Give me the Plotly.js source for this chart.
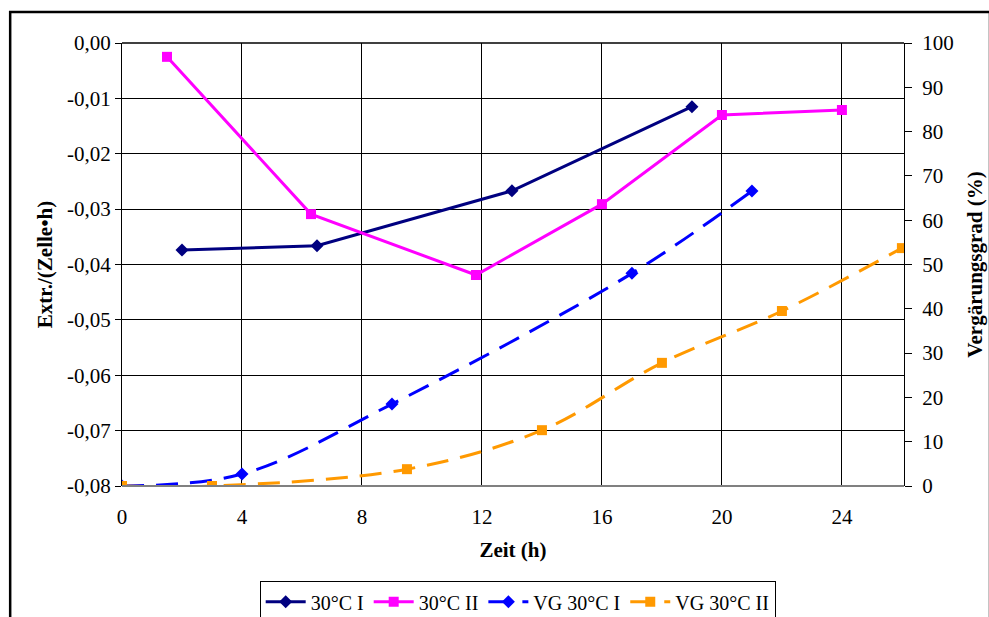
<!DOCTYPE html>
<html><head><meta charset="utf-8">
<script src="https://cdn.plot.ly/plotly-3.0.1.min.js"></script>
<style>html,body{margin:0;padding:0;background:#fff}#c{width:989px;height:617px}</style>
</head><body><div id="c"></div>
<script>
const x30I = [2, 6.5, 13, 19];
const y30I = [-0.0374, -0.0366, -0.0267, -0.0115];
const x30II = [1.5, 6.3, 11.8, 16, 20, 24];
const y30II = [-0.0025, -0.0309, -0.0419, -0.0291, -0.0130, -0.0121];
const xVGI = [0, 4, 9, 17, 21];
const yVGI = [0, 2.7, 18.5, 48, 66.6];
const xVGII = [0, 3, 9.5, 14, 18, 22, 26];
const yVGII = [0, 0, 3.8, 12.6, 27.8, 39.5, 53.7];
const yTickVals = [0, -0.01, -0.02, -0.03, -0.04, -0.05, -0.06, -0.07, -0.08];
const yTickText = ["0,00", "-0,01", "-0,02", "-0,03", "-0,04", "-0,05", "-0,06", "-0,07", "-0,08"];
const xTickVals = [0, 4, 8, 12, 16, 20, 24];
const y2TickVals = [0, 10, 20, 30, 40, 50, 60, 70, 80, 90, 100];

const FAM = "'Liberation Serif', serif";
const font = {family: FAM, size: 21, color: "#000"};
const tickfont = {family: FAM, size: 21, color: "#000"};
const titlefont = {family: FAM, size: 21, color: "#000"};
const traces = [
  {x: x30I, y: y30I, name: "30°C I", mode: "lines+markers",
   line: {color: "#000080", width: 3}, marker: {symbol: "diamond", size: 10, color: "#000080"}},
  {x: x30II, y: y30II, name: "30°C II", mode: "lines+markers",
   line: {color: "#FF00FF", width: 3}, marker: {symbol: "square", size: 10, color: "#FF00FF"}},
  {x: xVGI, y: yVGI, name: "VG 30°C I", yaxis: "y2", mode: "lines+markers",
   line: {color: "#0000FF", width: 3, dash: "22px,12px", shape: "spline"}, marker: {symbol: "diamond", size: 10, color: "#0000FF"}},
  {x: xVGII, y: yVGII, name: "VG 30°C II", yaxis: "y2", mode: "lines+markers",
   line: {color: "#FF9900", width: 3, dash: "22px,12px", shape: "spline"}, marker: {symbol: "square", size: 10, color: "#FF9900"}}
];
const layout = {
  width: 989, height: 617,
  margin: {l: 122, r: 85, t: 43, b: 131},
  paper_bgcolor: "#fff", plot_bgcolor: "#fff",
  font: font,
  showlegend: true,
  legend: {orientation: "h", x: 0.506, xanchor: "center", yref: "container", y: 0.058, yanchor: "top",
    bordercolor: "#000", borderwidth: 1, font: {family: FAM, size: 20},
    itemwidth: 40, tracegroupgap: 0},
  xaxis: {range: [0, 26.07], tickvals: xTickVals, showgrid: true, gridcolor: "#000", gridwidth: 1,
    zeroline: false, showline: false, ticks: "", ticklen: 0, automargin: false, tickfont: tickfont,
    ticklabelstandoff: 16,
    title: {text: "<b>Zeit (h)</b>", font: titlefont, standoff: 14}},
  yaxis: {range: [-0.08, 0], tickvals: yTickVals, ticktext: yTickText, showgrid: true, automargin: false,
    gridcolor: "#000", gridwidth: 1, zeroline: false, showline: true, linecolor: "#000", linewidth: 1,
    ticks: "outside", ticklen: 6, tickcolor: "#000", tickfont: tickfont,
    title: {text: "<b>Extr./(Zelle•h)</b>", font: titlefont, standoff: 8}},
  yaxis2: {range: [0, 100], overlaying: "y", side: "right", tickvals: y2TickVals, showgrid: false, automargin: false,
    zeroline: false, showline: true, linecolor: "#000", linewidth: 1, ticks: "outside", ticklen: 7, tickcolor: "#000",
    tickfont: tickfont, ticklabelstandoff: 6,
    title: {text: "<b>Vergärungsgrad (%)</b>", font: titlefont, standoff: 14}},
  shapes: [
    {type: "line", xref: "paper", yref: "paper", x0: 0, x1: 1, y0: 1, y1: 1, line: {color: "#000", width: 1.5}},
    {type: "line", xref: "paper", yref: "paper", x0: 0, x1: 1, y0: 0, y1: 0, line: {color: "#808080", width: 2}},
    {type: "rect", xref: "paper", yref: "paper", x0: -0.143, x1: 1.11, y0: -0.5, y1: 1.07, line: {color: "#000", width: 2.5}}
  ]
};
Plotly.newPlot("c", traces, layout, {displayModeBar: false, staticPlot: true});
</script></body></html>
